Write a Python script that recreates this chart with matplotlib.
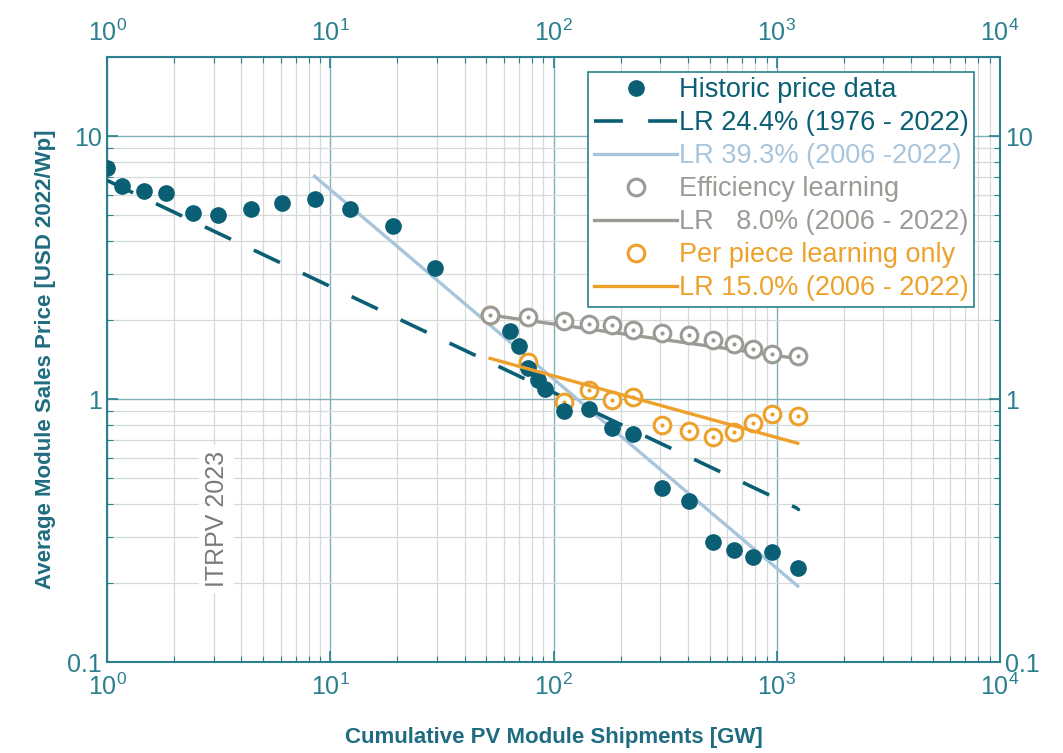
import numpy as np
import matplotlib.pyplot as plt
from matplotlib.ticker import LogLocator, FixedLocator, FixedFormatter

plt.rcParams['font.family'] = ['Liberation Sans Narrow', 'Liberation Sans', 'DejaVu Sans']

# historic module prices vs cumulative shipments
hist_gw = [1.0, 1.17, 1.47, 1.84, 2.43, 3.15, 4.4, 6.1, 8.5, 12.2, 19, 29.6,
           52, 64, 70, 77, 85, 92, 111, 144, 182, 228, 305, 403, 517, 641, 780, 950, 1242]
hist_price = [7.6, 6.5, 6.2, 6.07, 5.1, 5.0, 5.3, 5.56, 5.76, 5.3, 4.55, 3.15,
              2.1, 1.81, 1.6, 1.31, 1.18, 1.09, 0.90, 0.916, 0.78, 0.736, 0.459, 0.41,
              0.286, 0.267, 0.25, 0.262, 0.228]

# 2006-2022 decomposition
dec_gw = [52, 77, 111, 144, 182, 228, 305, 403, 517, 641, 780, 950, 1242]
eff_price = [2.09, 2.05, 1.98, 1.94, 1.91, 1.83, 1.78, 1.75, 1.68, 1.62, 1.55, 1.48, 1.46]
piece_price = [2.1, 1.38, 0.98, 1.08, 0.99, 1.02, 0.80, 0.76, 0.72, 0.75, 0.81, 0.88, 0.86]

# learning-rate fits: (start GW, end GW, start price, LR)
fit_all = (1.0, 1242, 6.8, 0.244)
fit_hist = (8.5, 1242, 7.05, 0.393)
fit_eff = (52, 1242, 2.09, 0.080)
fit_piece = (52, 1242, 1.43, 0.150)

teal = '#0b5f74'
axcol = '#2b8090'
light_blue = '#a8c5dc'
grey = '#9b9b96'
orange = '#eea12a'


def lr_line(fit):
    x0, x1, y0, lr = fit
    x = np.array([x0, x1])
    b = np.log2(1 - lr)
    return x, y0 * (x / x0) ** b


fig = plt.figure(figsize=(10.63, 7.53), dpi=100)
ax = fig.add_axes([0.1007, 0.1208, 0.84, 0.8032])
ax.set_xscale('log')
ax.set_yscale('log')
ax.set_xlim(1, 1e4)
ax.set_ylim(0.1, 20)

ax.grid(True, which='major', color='#7fb0ba', lw=1.0)
ax.grid(True, which='minor', color='#d6d9da', lw=0.9)
ax.set_axisbelow(True)

ax.plot(hist_gw, hist_price, 'o', color=teal, ms=11, label='Historic price data', zorder=5)
x, y = lr_line(fit_all)
ax.plot(x, y, color=teal, lw=2.6, dashes=(8, 7), label='LR 24.4% (1976 - 2022)', zorder=4)
x, y = lr_line(fit_hist)
ax.plot(x, y, color=light_blue, lw=2.4, label='LR 39.3% (2006 -2022)', zorder=3)
ax.plot(dec_gw, eff_price, 'o', mfc='white', mec=grey, mew=2.2, ms=12,
        label='Efficiency learning', zorder=6)
ax.plot(dec_gw, eff_price, '.', color=grey, ms=4, zorder=7)
x, y = lr_line(fit_eff)
ax.plot(x, y, color=grey, lw=2.4, label='LR   8.0% (2006 - 2022)', zorder=5)
ax.plot(dec_gw, piece_price, 'o', mfc='white', mec=orange, mew=2.2, ms=12,
        label='Per piece learning only', zorder=4)
ax.plot(dec_gw, piece_price, '.', color=orange, ms=4, zorder=4)
x, y = lr_line(fit_piece)
ax.plot(x, y, color=orange, lw=2.4, label='LR 15.0% (2006 - 2022)', zorder=5)

# end dot of the long-term fit
ax.plot([1242], [lr_line(fit_all)[1][1]], '.', color=teal, ms=3)

ax.set_yticks([0.1, 1, 10])
ax.set_yticklabels(['0.1', '1', '10'])
ax.yaxis.set_minor_locator(LogLocator(base=10, subs=np.arange(2, 10)))
ax.yaxis.set_minor_formatter(FixedFormatter([]))
ax.xaxis.set_major_locator(FixedLocator([1, 10, 100, 1000, 10000]))
ax.xaxis.set_minor_locator(LogLocator(base=10, subs=np.arange(2, 10)))

ax.tick_params(which='both', direction='in', top=True, right=True,
               labeltop=True, labelright=True, colors=axcol, labelcolor=axcol,
               labelsize=18)
ax.tick_params(which='major', length=8, width=1.2)
ax.tick_params(which='minor', length=4, width=0.8)
ax.tick_params(axis='x', pad=8)
for s in ax.spines.values():
    s.set_color(axcol)
    s.set_linewidth(1.5)

ax.set_xlabel('Cumulative PV Module Shipments [GW]', color='#1f6c80',
              fontsize=16, fontweight='bold', labelpad=20)
ax.set_ylabel('Average Module Sales Price [USD 2022/Wp]', color='#1f6c80',
              fontsize=16, fontweight='bold', labelpad=8)

ax.text(3.1, 0.35, 'ITRPV 2023', rotation=90, color='#7a7a7a', fontsize=18,
        ha='center', va='center',
        bbox=dict(facecolor='white', edgecolor='none', pad=4))

leg = ax.legend(loc='upper right', bbox_to_anchor=(0.977, 0.985), fontsize=19.5,
                frameon=True, fancybox=False, edgecolor=axcol, framealpha=1,
                handlelength=3.1, handletextpad=0.05, borderpad=0.2,
                labelspacing=0.26, borderaxespad=0.2, markerscale=1.0)
leg.get_frame().set_linewidth(1.2)
for txt, c in zip(leg.get_texts(), [teal, teal, light_blue, grey, grey, orange, orange]):
    txt.set_color(c)

fig.savefig('out.png', dpi=100)
